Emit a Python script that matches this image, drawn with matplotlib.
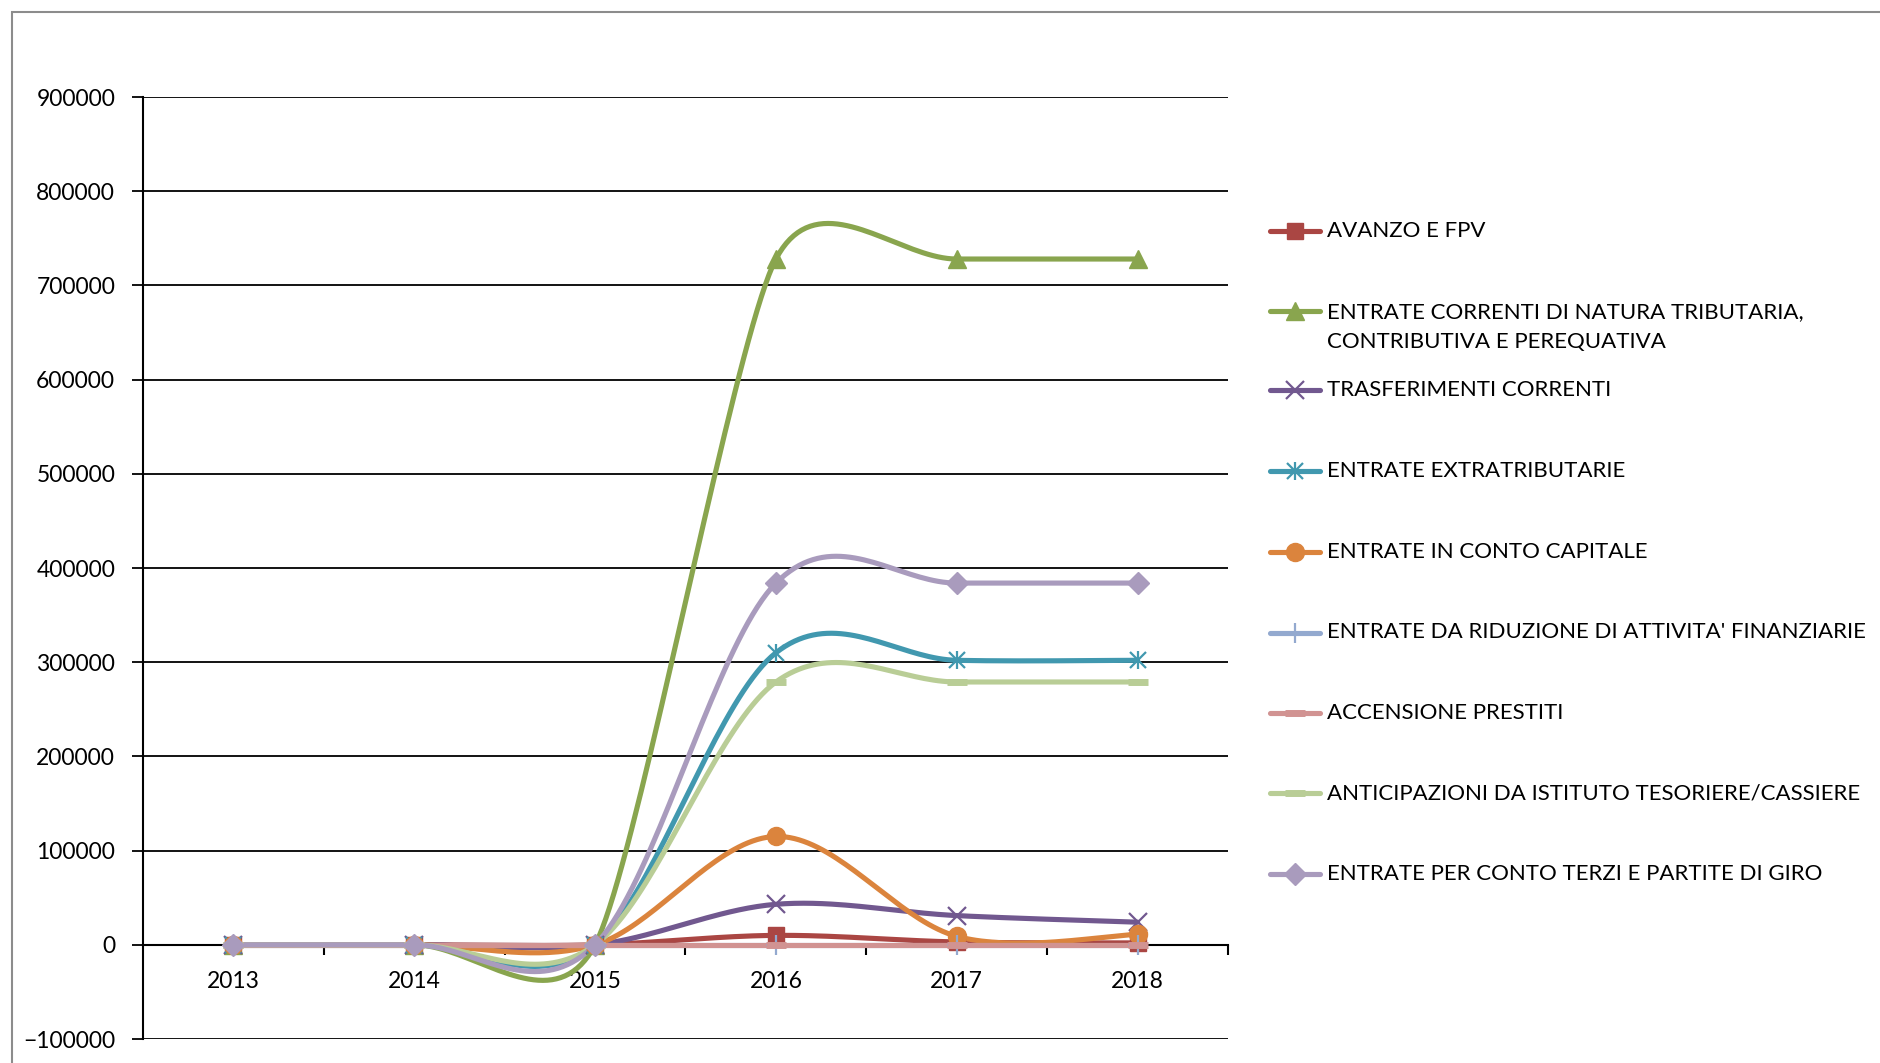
import numpy as np
import matplotlib.pyplot as plt
from matplotlib.lines import Line2D
from matplotlib.patches import Rectangle
from matplotlib.ticker import MultipleLocator, FixedLocator

plt.rcParams['font.family'] = ['Lato', 'DejaVu Sans']

anni = ['2013', '2014', '2015', '2016', '2017', '2018']

avanzo_fpv = [0, 0, 0, 10000, 3000, 2000]
entrate_correnti = [0, 0, 0, 728000, 728000, 728000]
trasferimenti = [0, 0, 0, 43000, 31000, 24000]
extratributarie = [0, 0, 0, 310000, 302000, 302000]
conto_capitale = [0, 0, 0, 115000, 9000, 11000]
riduzione_att = [0, 0, 0, 0, 0, 0]
accensione = [0, 0, 0, 0, 0, 0]
anticipazioni = [0, 0, 0, 279000, 279000, 279000]
conto_terzi = [0, 0, 0, 384000, 384000, 384000]

etichette = ['AVANZO E FPV',
             'ENTRATE CORRENTI DI NATURA TRIBUTARIA,\nCONTRIBUTIVA E PEREQUATIVA',
             'TRASFERIMENTI CORRENTI',
             'ENTRATE EXTRATRIBUTARIE',
             'ENTRATE IN CONTO CAPITALE',
             "ENTRATE DA RIDUZIONE DI ATTIVITA' FINANZIARIE",
             'ACCENSIONE PRESTITI',
             'ANTICIPAZIONI DA ISTITUTO TESORIERE/CASSIERE',
             'ENTRATE PER CONTO TERZI E PARTITE DI GIRO']
serie = [avanzo_fpv, entrate_correnti, trasferimenti, extratributarie, conto_capitale,
         riduzione_att, accensione, anticipazioni, conto_terzi]
colori = ['#AA4643', '#89A54E', '#71588F', '#4198AF', '#DB843D',
          '#93A9CF', '#D19392', '#B9CD96', '#A99BBD']
# (marker, size, edge width) -- 'star' = x + vertical bar like excel
marcatori = [('s', 11, 1), ('^', 13, 1), ('x', 13, 1.6), ('star', 13, 1.6), ('o', 13, 1),
             ('+', 14, 1.6), ('_', 14, 5), ('_', 14, 5), ('D', 11, 1)]

W, H = 1881, 1063


def smooth(xs, ys, sx=181.0, sy=94.2 / 100000, n=40):
    # excel-like smoothed line: bezier, tangent (p2-p0)/6 capped by half the shorter segment
    P = np.column_stack([np.asarray(xs, float) * sx, np.asarray(ys, float) * sy])
    k = len(P)
    T = np.zeros_like(P)
    f = np.zeros(k)
    for i in range(k):
        a, b = P[max(i - 1, 0)], P[min(i + 1, k - 1)]
        T[i] = b - a
        L = np.linalg.norm(T[i])
        ds = [np.linalg.norm(P[i] - a), np.linalg.norm(b - P[i])]
        ds = [d for d in ds if d > 0]
        if L == 0 or not ds:
            continue
        f[i] = min(1 / 6, min(ds) / (2 * L))
    t = np.linspace(0, 1, n)[:, None]
    pts = [P[:1]]
    for i in range(k - 1):
        p1, p2 = P[i], P[i + 1]
        c1 = p1 + f[i] * T[i]
        c2 = p2 - f[i + 1] * T[i + 1]
        seg = (1 - t) ** 3 * p1 + 3 * (1 - t) ** 2 * t * c1 + 3 * (1 - t) * t ** 2 * c2 + t ** 3 * p2
        pts.append(seg[1:])
    pts = np.vstack(pts)
    return pts[:, 0] / sx, pts[:, 1] / sy


def marker_lines(x, y, col, m, **kw):
    mk, ms, mew = m
    if mk == 'star':
        return [Line2D(x, y, marker='x', ms=ms * 0.85, mew=mew, color=col, ls='none', **kw),
                Line2D(x, y, marker='|', ms=ms, mew=mew, color=col, ls='none', **kw)]
    return [Line2D(x, y, marker=mk, ms=ms, mew=mew, color=col, mec=col, ls='none', **kw)]


fig = plt.figure(figsize=(W / 100, H / 100), dpi=100)
fig.patches.append(Rectangle((12 / W, -0.1), 2, 1.1 - 12 / H, transform=fig.transFigure,
                             fill=False, edgecolor='#8c8c8c', lw=1.5))

ax = fig.add_axes([143 / W, 1 - 1039 / H, (1228 - 143) / W, (1039 - 97) / H])
x = np.arange(len(anni))
for vals, col, m in zip(serie, colori, marcatori):
    sx_, sy_ = smooth(x, vals)
    ax.plot(sx_, sy_, color=col, lw=3.7, solid_capstyle='round', zorder=3)
    for ln in marker_lines(x, vals, col, m, zorder=4):
        ax.add_line(ln)

ax.set_xlim(-0.5, 5.5)
ax.set_ylim(-100000, 900000)
ax.yaxis.set_major_locator(MultipleLocator(100000))
ax.grid(axis='y', color='black', lw=1.3)
ax.set_axisbelow(True)
for s in ['top', 'right']:
    ax.spines[s].set_visible(False)
ax.spines['left'].set_linewidth(1.5)
ax.spines['bottom'].set_position(('data', 0))
ax.spines['bottom'].set_linewidth(1.5)
ax.spines['bottom'].set_zorder(2)
ax.set_xticks(x)
ax.set_xticklabels(anni)
ax.xaxis.set_minor_locator(FixedLocator(np.arange(0.5, 6, 1)))
ax.tick_params(axis='x', which='major', length=0, pad=19, labelsize=16.5)
ax.tick_params(axis='x', which='minor', length=7, width=1.5, direction='out')
ax.tick_params(axis='y', length=8, width=1.3, pad=12, labelsize=16.5)

# legend drawn by hand
leg_y = [231, 327, 390, 471.5, 552, 632.5, 713, 793, 874]
for yy, lab, col, m in zip(leg_y, etichette, colori, marcatori):
    ym = yy if '\n' not in lab else 311
    fy = 1 - ym / H
    fig.add_artist(Line2D([1270 / W, 1320 / W], [fy, fy], color=col, lw=3.7,
                          solid_capstyle='round', transform=fig.transFigure))
    for ln in marker_lines([1295 / W], [fy], col, m, transform=fig.transFigure):
        fig.add_artist(ln)
    fig.text(1327 / W, 1 - yy / H, lab, va='center', ha='left', fontsize=16,
             linespacing=1.6)

fig.savefig('out.png', dpi=100)
